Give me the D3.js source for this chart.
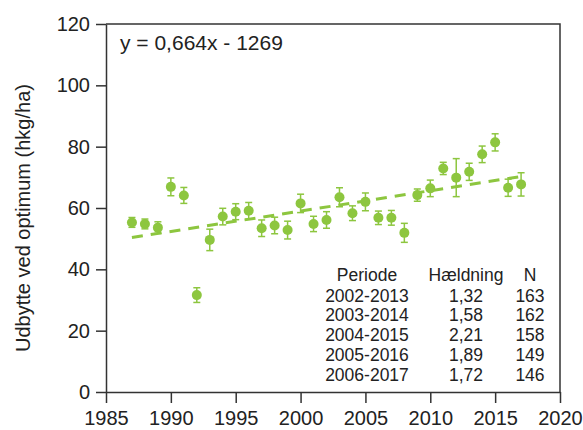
<!DOCTYPE html>
<html>
<head>
<meta charset="utf-8">
<script src="https://cdn.jsdelivr.net/npm/d3@7"></script>
<style>
  html, body { margin: 0; padding: 0; background: #fff; }
  svg { display: block; font-family: "Liberation Sans", Arial, sans-serif; }
</style>
</head>
<body>
<svg id="chart" width="583" height="430"></svg>
<script>
// ---- data ----
const years = [1987,1988,1989,1990,1991,1992,1993,1994,1995,1996,1997,1998,1999,2000,2001,2002,2003,2004,2005,2006,2007,2008,2009,2010,2011,2012,2013,2014,2015,2016,2017];
const yields = [55.3,54.8,53.6,66.9,64.1,31.6,49.6,57.2,58.8,59.1,53.4,54.3,52.8,61.5,54.8,56.1,63.5,58.3,62.0,56.8,56.8,51.9,64.2,66.4,72.9,69.9,71.8,77.5,81.4,66.6,67.7];
const errors = [1.6,1.6,1.9,2.9,2.6,2.4,3.5,2.7,2.6,2.7,2.7,2.7,2.9,3.0,2.5,2.7,3.1,2.4,2.9,2.2,2.4,3.1,2.0,2.7,2.0,6.2,2.8,2.7,2.8,2.8,3.8];
const trendSlope = 0.664;
const trendIntercept = -1269;
const equationLabel = "y = 0,664x - 1269";
const xTicks = [1985,1990,1995,2000,2005,2010,2015,2020];
const yTicks = [0,20,40,60,80,100,120];
const yLabel = "Udbytte ved optimum (hkg/ha)";
const tableHeader = ["Periode","Hældning","N"];
const tablePeriods = ["2002-2013","2003-2014","2004-2015","2005-2016","2006-2017"];
const tableSlopes = ["1,32","1,58","2,21","1,89","1,72"];
const tableN = ["163","162","158","149","146"];

// ---- layout ----
const svg = d3.select("#chart");
const pLeft = 106, pRight = 560, pTop = 24, pBottom = 392;
const green = "#8dc63f";
const axisColor = "#333";
const textColor = "#222";

const x = d3.scaleLinear().domain([1985, 2020]).range([pLeft, pRight]);
const y = d3.scaleLinear().domain([0, 120]).range([pBottom, pTop]);

// frame (top and right)
svg.append("path")
  .attr("d", `M${pLeft},${pTop}H${pRight}V${pBottom}`)
  .attr("fill", "none").attr("stroke", axisColor).attr("stroke-width", 1.5);

const xAxis = svg.append("g")
  .attr("transform", `translate(0,${pBottom})`)
  .call(d3.axisBottom(x).tickValues(xTicks).tickFormat(d3.format("d")).tickSize(11).tickSizeOuter(0).tickPadding(8));
const yAxis = svg.append("g")
  .attr("transform", `translate(${pLeft},0)`)
  .call(d3.axisLeft(y).tickValues(yTicks).tickSize(10).tickSizeOuter(0).tickPadding(6));

[xAxis, yAxis].forEach(g => {
  g.selectAll("path.domain").attr("stroke", axisColor).attr("stroke-width", 1.5);
  g.selectAll(".tick line").attr("stroke", axisColor).attr("stroke-width", 1.5);
  g.selectAll(".tick text").attr("fill", textColor).style("font-size", "20px")
    .style("font-family", '"Liberation Sans", Arial, sans-serif');
});

// y axis title
svg.append("text")
  .attr("transform", `translate(30,${(pTop + pBottom) / 2 + 10}) rotate(-90)`)
  .attr("text-anchor", "middle")
  .attr("fill", textColor)
  .style("font-size", "20px")
  .text(yLabel);

// trend line (dashed)
const x0 = years[0], x1 = years[years.length - 1];
svg.append("line")
  .attr("x1", x(x0)).attr("y1", y(trendSlope * x0 + trendIntercept))
  .attr("x2", x(x1)).attr("y2", y(trendSlope * x1 + trendIntercept))
  .attr("stroke", green).attr("stroke-width", 3)
  .attr("stroke-dasharray", "11,8");

// error bars
const pts = years.map((yr, i) => ({ yr, v: yields[i], e: errors[i] }));
const eb = svg.append("g").attr("stroke", green).attr("stroke-width", 1.5);
pts.forEach(d => {
  eb.append("line").attr("x1", x(d.yr)).attr("x2", x(d.yr))
    .attr("y1", y(d.v - d.e)).attr("y2", y(d.v + d.e));
  [d.v - d.e, d.v + d.e].forEach(v => {
    eb.append("line").attr("x1", x(d.yr) - 3.5).attr("x2", x(d.yr) + 3.5)
      .attr("y1", y(v)).attr("y2", y(v));
  });
});

// points
svg.append("g").selectAll("circle").data(pts).join("circle")
  .attr("cx", d => x(d.yr)).attr("cy", d => y(d.v)).attr("r", 5)
  .attr("fill", green);

// equation
svg.append("text").attr("x", 120).attr("y", 50)
  .attr("fill", textColor).style("font-size", "21px").text(equationLabel);

// table
const colX = [367, 466, 530];
const headerY = 281, rowY0 = 301.5, rowStep = 19.8;
const tbl = svg.append("g").attr("fill", textColor).style("font-size", "17.5px").attr("text-anchor", "middle");
tableHeader.forEach((h, j) => tbl.append("text").attr("x", colX[j]).attr("y", headerY).text(h));
tablePeriods.forEach((p, i) => {
  const yy = rowY0 + i * rowStep;
  tbl.append("text").attr("x", colX[0]).attr("y", yy).text(p);
  tbl.append("text").attr("x", colX[1]).attr("y", yy).text(tableSlopes[i]);
  tbl.append("text").attr("x", colX[2]).attr("y", yy).text(tableN[i]);
});
</script>
</body>
</html>
